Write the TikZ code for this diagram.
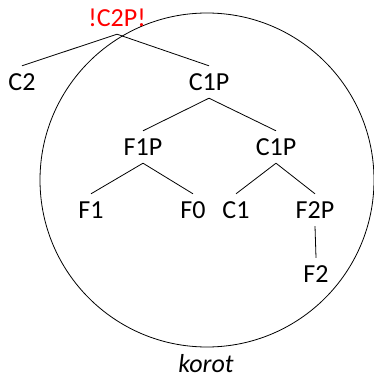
\documentclass[tikz,border=0pt]{standalone}
\usepackage{fontspec}
\setmainfont{Carlito}
\begin{document}
\begin{tikzpicture}[x=1pt,y=-1pt,
  lbl/.style={font=\fontsize{26}{30}\selectfont, inner sep=0pt, minimum height=32pt},
  edge/.style={draw=black, line width=0.8pt}]
\useasboundingbox (0,0) rectangle (374,377);
\node[circle, draw, line width=0.8pt, minimum size=334pt, inner sep=0pt] (circ) at (207,180) {};
\node[lbl, text=red] (top) at (117,18) {!C2P!};
\node[lbl] (c2) at (22,82) {C2};
\node[lbl] (c1pa) at (209,82) {C1P};
\node[lbl] (f1p) at (143,147) {F1P};
\node[lbl] (c1pb) at (276,147) {C1P};
\node[lbl] (f1) at (91,210) {F1};
\node[lbl] (f0) at (193,210) {F0};
\node[lbl] (c1) at (236,210) {C1};
\node[lbl] (f2p) at (315,210) {F2P};
\node[lbl] (f2) at (316,274) {F2};
\node[font=\fontsize{26}{30}\selectfont\itshape, inner sep=0pt, anchor=base] (korot) at (206,372) {korot};
\draw[edge] (top.south) -- (c2.north);
\draw[edge] (top.south) -- (c1pa.north);
\draw[edge] (c1pa.south) -- (f1p.north);
\draw[edge] (c1pa.south) -- (c1pb.north);
\draw[edge] (f1p.south) -- (f1.north);
\draw[edge] (f1p.south) -- (f0.north);
\draw[edge] (c1pb.south) -- (c1.north);
\draw[edge] (c1pb.south) -- (f2p.north);
\draw[edge] (f2p.south) -- (f2.north);
\end{tikzpicture}
\end{document}
